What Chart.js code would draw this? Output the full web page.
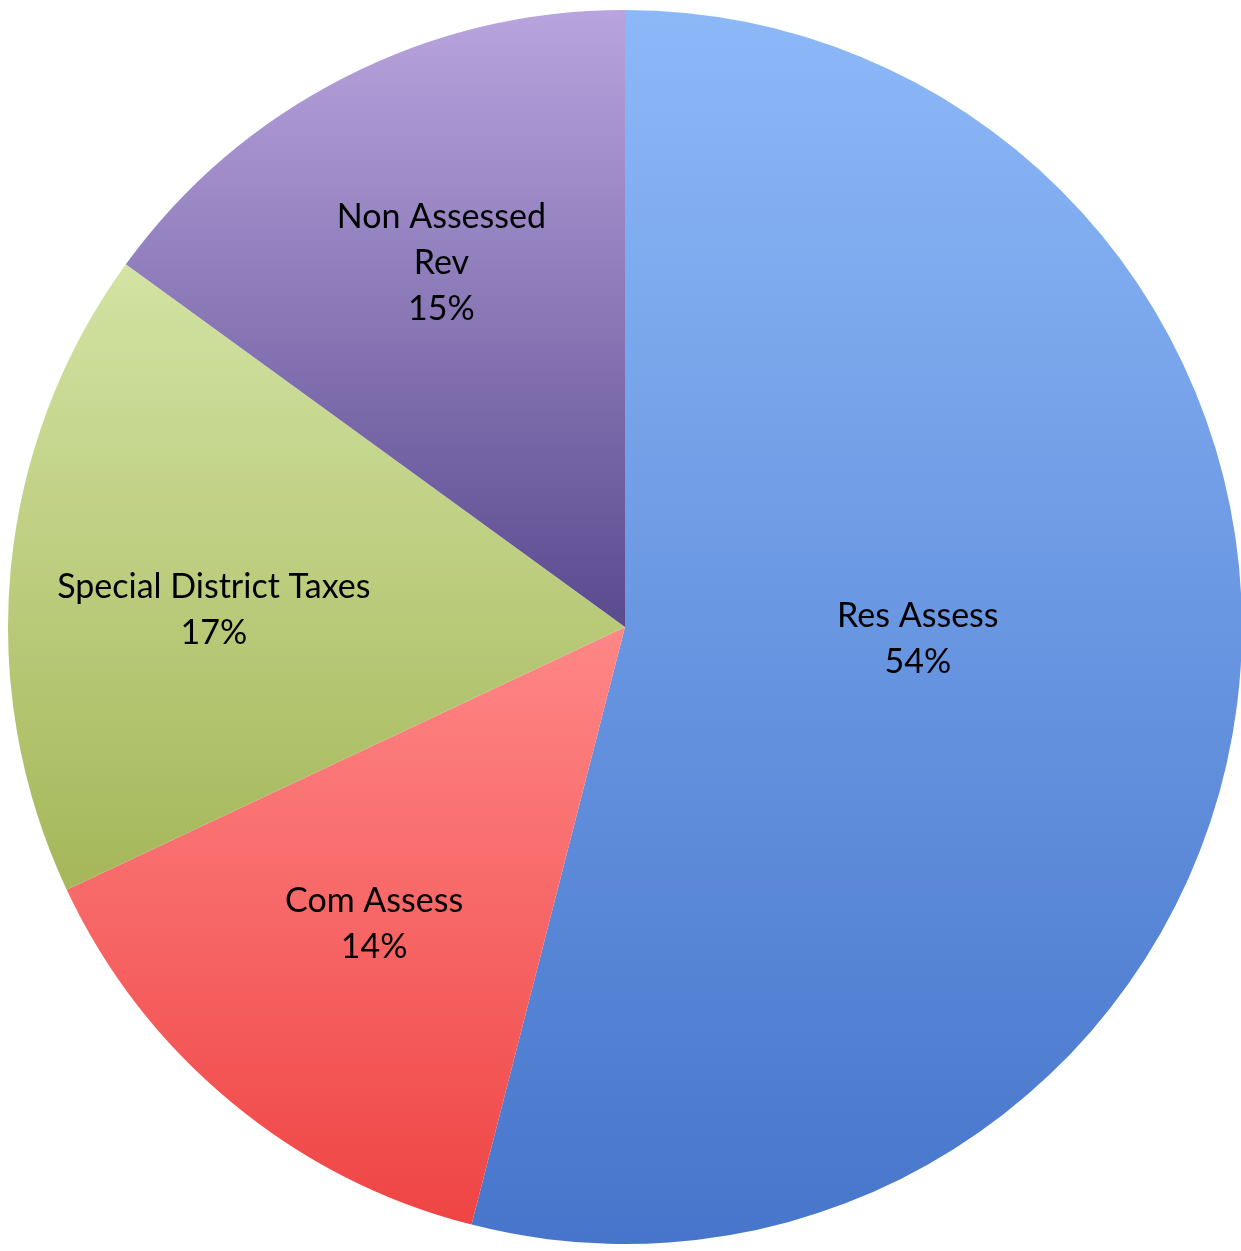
<!DOCTYPE html>
<html>
<head>
<meta charset="utf-8">
<style>
  html, body { margin: 0; padding: 0; background: #fff; overflow: hidden; }
  #wrap { width: 1243px; height: 1251px; }
</style>
<script src="https://cdn.jsdelivr.net/npm/chart.js@4/dist/chart.umd.min.js"></script>
</head>
<body>
<div id="wrap"><canvas id="pie"></canvas></div>
<script>
// --- Data ---
const categories = ['Res Assess', 'Com Assess', 'Special District Taxes', 'Non Assessed Rev'];
const labelLines = [['Res Assess'], ['Com Assess'], ['Special District Taxes'], ['Non Assessed', 'Rev']];
const shares = [54, 14, 17, 15];

// gradient stops per slice: top of slice -> bottom of slice
const topColors = ['#8db8f8', '#ff8787', '#d2e3a3', '#b8a4de'];
const bottomColors = ['#4675cb', '#ef4444', '#a5b759', '#5a4a8e'];

// label placement: fraction of radius, angle nudge in degrees
const labelRadius = [0.475, 0.63, 0.667, 0.66];
const labelNudge = [-4.9, 0.6, -3, 0.2];

const total = shares.reduce((a, b) => a + b, 0);

function sliceAngles(i) {
    let start = 0;
    for (let k = 0; k < i; k++) start += shares[k];
    const a0 = -Math.PI / 2 + start / total * Math.PI * 2;
    const a1 = a0 + shares[i] / total * Math.PI * 2;
    return [a0, a1];
}

function geometry(chart) {
    const ca = chart.chartArea;
    const cx = (ca.left + ca.right) / 2;
    const cy = (ca.top + ca.bottom) / 2;
    const r = Math.min(ca.right - ca.left, ca.bottom - ca.top) / 2;
    return { cx, cy, r };
}

// vertical gradient over each slice's own bounding box
function sliceFill(ctx) {
    const chart = ctx.chart;
    const i = ctx.dataIndex;
    if (!chart.chartArea || i === undefined) return topColors[i || 0];
    const { cx, cy, r } = geometry(chart);
    const [a0, a1] = sliceAngles(i);
    const ys = [cy, cy + r * Math.sin(a0), cy + r * Math.sin(a1)];
    for (const t of [-Math.PI / 2, Math.PI / 2, Math.PI * 1.5]) {
        if (t > a0 && t < a1) ys.push(cy + r * Math.sin(t));
    }
    const y0 = Math.min(...ys), y1 = Math.max(...ys);
    const g = chart.ctx.createLinearGradient(0, y0, 0, y1);
    g.addColorStop(0, topColors[i]);
    g.addColorStop(1, bottomColors[i]);
    return g;
}

// --- Labels plugin ---
const sliceLabels = {
    id: 'sliceLabels',
    afterDatasetsDraw(chart) {
        const { cx, cy, r } = geometry(chart);
        const c = chart.ctx;
        c.save();
        c.font = '34px Lato, "Noto Sans", sans-serif';
        c.fillStyle = '#000';
        c.textAlign = 'center';
        c.textBaseline = 'middle';
        const lh = 46;
        shares.forEach((v, i) => {
            const [a0, a1] = sliceAngles(i);
            const a = (a0 + a1) / 2 + labelNudge[i] * Math.PI / 180;
            const x = cx + Math.cos(a) * r * labelRadius[i];
            const y = cy + Math.sin(a) * r * labelRadius[i];
            const lines = labelLines[i].concat([Math.round(v / total * 100) + '%']);
            const yStart = y - (lines.length - 1) * lh / 2;
            lines.forEach((t, k) => c.fillText(t, x, yStart + k * lh));
        });
        c.restore();
    }
};

const canvas = document.getElementById('pie');
canvas.width = 1243;
canvas.height = 1251;

new Chart(canvas, {
    type: 'pie',
    data: {
        labels: categories,
        datasets: [{
            data: shares,
            backgroundColor: sliceFill,
            borderWidth: 0
        }]
    },
    options: {
        responsive: false,
        animation: false,
        layout: { padding: { left: 8, right: 1, top: 10, bottom: 7 } },
        plugins: {
            legend: { display: false },
            tooltip: { enabled: false }
        }
    },
    plugins: [sliceLabels]
});
</script>
</body>
</html>
